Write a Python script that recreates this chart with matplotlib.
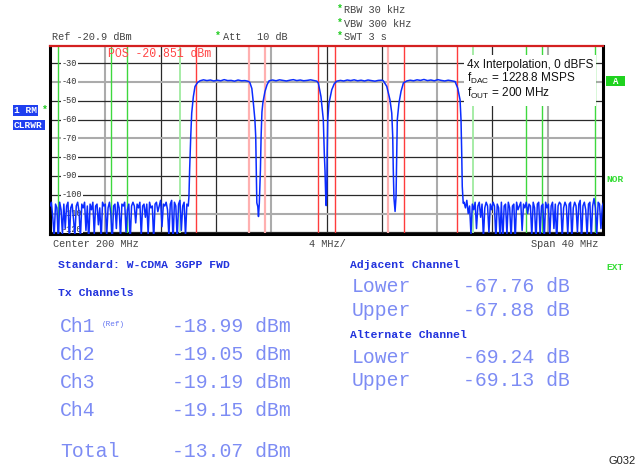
import numpy as np
import matplotlib
matplotlib.use("Agg")
import matplotlib.pyplot as plt
from matplotlib.patches import Rectangle
from matplotlib.transforms import blended_transform_factory

plt.rcParams['mathtext.fontset'] = 'custom'
plt.rcParams['mathtext.rm'] = 'Liberation Sans'
plt.rcParams['mathtext.it'] = 'Liberation Sans:italic'

W, H = 641, 470
MONO = 'Liberation Mono'
SANS = 'Liberation Sans'

# ---- instrument settings ----
ref_level = -20.9
att_db = 10
rbw = "30 kHz"
vbw = "300 kHz"
swt = "3 s"
center_mhz = 200
span_mhz = 40
div_mhz = 4
marker_label = "POS -20.851 dBm"
standard = "W-CDMA 3GPP FWD"

# ---- channel configuration (MHz) ----
tx_centers = [192.5, 197.5, 202.5, 207.5]
channel_bw = 3.84
adj_centers = [187.5, 212.5]
alt_centers = [182.5, 217.5]

# ---- measurement results ----
channel_names = ["Ch1", "Ch2", "Ch3", "Ch4"]
channel_power = [-18.99, -19.05, -19.19, -19.15]
total_power = -13.07
adjacent_acpr = [-67.76, -67.88]
alternate_acpr = [-69.24, -69.13]

# ---- level axis labels ----
level_ticks = [-30, -40, -50, -60, -70, -80, -90, -100, -110, -120]

# ---- trace: noise floor below the carriers (0.1 MHz sweep grid from 180 MHz) ----
noise_low_start = 180.0
noise_low = [
    -106, -104, -112, -122, -105, -107, -125, -104, -108, -121,
    -105, -118, -106, -104, -124, -107, -105, -113, -122, -106,
    -104, -109, -123, -105, -107, -104, -119, -106, -125, -105,
    -108, -104, -121, -106, -105, -116, -107, -124, -104, -106,
    -105, -122, -107, -104, -110, -125, -106, -105, -118, -104,
    -107, -123, -105, -106, -104, -120, -108, -105, -125, -106,
    -104, -106, -115, -105, -107, -104, -122, -106, -105, -112,
    -105, -121, -104, -107, -106, -124, -105, -104, -109, -106,
    -103, -117, -105, -106, -104, -108, -122, -105, -103, -125,
    -104, -106, -124, -105, -103, -119, -106, -104, -122, -105,
]

# ---- trace: four-carrier region ----
carrier_freq = [
    190.00, 190.05, 190.10, 190.18, 190.25, 190.37, 190.49, 190.68, 190.85,
    191.10, 191.35, 191.60, 191.85, 192.10, 192.35, 192.60, 192.85, 193.10,
    193.35, 193.60, 193.85, 194.10, 194.30,
    194.45, 194.60, 194.71, 194.82, 194.88, 194.92, 194.96, 195.03, 195.08,
    195.14, 195.22, 195.27, 195.33, 195.40, 195.55, 195.70, 195.85,
    196.10, 196.35, 196.60, 196.85, 197.10, 197.35, 197.60, 197.85, 198.10,
    198.35, 198.60, 198.85, 199.10, 199.30,
    199.41, 199.60, 199.77, 199.84, 199.89, 199.94, 199.98, 200.02, 200.05,
    200.09, 200.18, 200.38, 200.56, 200.74,
    201.00, 201.25, 201.50, 201.75, 202.00, 202.25, 202.50, 202.75, 203.00,
    203.25, 203.50, 203.75, 204.00,
    204.11, 204.36, 204.59, 204.72, 204.79, 204.83, 204.88, 204.96, 205.03,
    205.08, 205.12, 205.24, 205.39, 205.56, 205.80,
    206.05, 206.30, 206.55, 206.80, 207.05, 207.30, 207.55, 207.80, 208.05,
    208.30, 208.55, 208.80, 209.05, 209.30,
    209.49, 209.66, 209.73, 209.78, 209.82, 209.89,
]
carrier_level = [
    -106.0, -101.0, -86.8, -69.0, -56.6, -47.8, -42.4, -40.3, -39.4,
    -38.9, -39.3, -39.0, -39.5, -39.1, -39.4, -38.8, -39.3, -39.2,
    -39.6, -39.0, -39.4, -39.3, -39.6,
    -40.2, -43.5, -51.3, -60.0, -69.0, -86.8, -104.3, -106.3, -111.6,
    -104.5, -86.8, -69.0, -56.0, -51.0, -45.1, -41.5, -39.4,
    -39.0, -39.4, -38.9, -39.2, -39.5, -39.1, -38.8, -39.3, -39.0,
    -39.4, -39.2, -38.9, -39.3, -39.6,
    -40.6, -47.8, -60.2, -77.9, -86.8, -100.0, -105.8, -98.0, -77.9,
    -60.2, -51.3, -44.2, -41.0, -39.6,
    -39.2, -39.5, -39.0, -39.3, -38.9, -39.4, -39.1, -39.5, -39.0,
    -39.3, -39.6, -39.2, -39.1,
    -39.4, -42.4, -49.5, -56.6, -69.0, -86.8, -101.8, -108.9, -101.0,
    -77.9, -60.2, -51.3, -45.1, -40.6, -39.5,
    -39.1, -39.4, -38.9, -39.2, -38.7, -39.3, -39.0, -39.4, -38.8,
    -39.2, -39.5, -39.1, -39.4, -39.8,
    -43.3, -49.5, -60.2, -77.9, -95.6, -104.5,
]

# ---- trace: noise floor above the carriers (0.1 MHz sweep grid) ----
noise_high_start = 209.95
noise_high = [
    -104, -107, -103, -110, -106, -121, -105, -108, -104, -118,
    -106, -104, -112, -105, -123, -107, -104, -106, -120, -105,
    -108, -104, -106, -124, -105, -107, -122, -104, -125, -106,
    -105, -121, -104, -107, -123, -106, -105, -124, -104, -108,
    -106, -104, -119, -105, -107, -104, -110, -105, -106, -122,
    -104, -107, -125, -105, -104, -121, -106, -105, -124, -104,
    -107, -105, -122, -106, -104, -118, -105, -125, -106, -104,
    -105, -123, -107, -104, -106, -121, -105, -104, -124, -107,
    -104, -106, -120, -105, -103, -125, -106, -104, -108, -122,
    -105, -104, -123, -106, -102, -107, -121, -104, -105, -118,
    -106, -104,
]

sweep_step = 0.1
freq = np.concatenate([
    noise_low_start + sweep_step * np.arange(len(noise_low)),
    np.array(carrier_freq),
    noise_high_start + sweep_step * np.arange(len(noise_high)),
])
level = np.concatenate([noise_low, carrier_level, noise_high]).astype(float)

# ---------------------------------------------------------------------------
fig = plt.figure(figsize=(W / 100, H / 100), dpi=100)
fig.patch.set_facecolor('white')

def fx(x):
    return x / W

def fy(y):
    return 1 - y / H

ax = fig.add_axes([fx(50), fy(234), 553 / W, 188 / H])
f_lo = center_mhz - span_mhz / 2
f_hi = center_mhz + span_mhz / 2
ax.set_xlim(f_lo, f_hi)
ax.set_ylim(ref_level - 100, ref_level)
ax.set_xticks([])
ax.set_yticks([])
for side in ('left', 'bottom', 'right'):
    ax.spines[side].set_color('black')
    ax.spines[side].set_linewidth(2.2)
ax.spines['top'].set_color('#d42020')
ax.spines['top'].set_linewidth(1.6)

# graticule
grid_freqs = f_lo + div_mhz * np.arange(1, 10)
light_v = {1, 4, 7, 9}
for i, gf in enumerate(grid_freqs, start=1):
    if i in light_v:
        ax.axvline(gf, color='#ababab', lw=1.5, zorder=1)
    else:
        ax.axvline(gf, color='#2a2a2a', lw=0.9, zorder=1)
light_h = {-40, -70, -110}
for lv in level_ticks:
    if lv in light_h:
        ax.axhline(lv, color='#ababab', lw=1.5, zorder=1)
    else:
        ax.axhline(lv, color='#2a2a2a', lw=0.9, zorder=1)

# channel limit lines
light_red = {(0, 1), (1, 0), (2, 1)}
for ci, c in enumerate(tx_centers):
    for ei, e in enumerate((c - channel_bw / 2, c + channel_bw / 2)):
        if (ci, ei) in light_red:
            ax.axvline(e, color='#ffb0b0', lw=1.6, zorder=1.5)
        else:
            ax.axvline(e, color='#ff3c3c', lw=1.0, zorder=1.5)
light_green = {(187.5, 1), (212.5, 0)}
for c in adj_centers + alt_centers:
    for ei, e in enumerate((c - channel_bw / 2, c + channel_bw / 2)):
        if (c, ei) in light_green:
            ax.axvline(e, color='#a6eca6', lw=1.4, zorder=1.5)
        else:
            ax.axvline(e, color='#3ed83e', lw=1.0, zorder=1.5)

# level labels inside the graticule
blend = blended_transform_factory(ax.transAxes, ax.transData)
for lv in level_ticks:
    ypos = lv if lv > -120 else lv + 1.5
    ax.text(12 / 553, ypos, f"{lv}", transform=blend, ha='left', va='center',
            fontsize=6.2, family=MONO, color='#333333', zorder=2.5,
            bbox=dict(facecolor='white', edgecolor='none', pad=0.4))

# spectrum trace
ax.plot(freq, level, color='#0b2cff', lw=1.1, zorder=3, clip_on=True)

# marker readout
ax.text((108 - 50) / 553, (234 - 54.5) / 188, marker_label, transform=ax.transAxes,
        ha='left', va='center', fontsize=8.3, family=MONO, color='#ff4646', zorder=4)

# annotation box
ax.add_patch(Rectangle(((464 - 50) / 553, (234 - 106) / 188), 132 / 553, 51 / 188,
                       transform=ax.transAxes, facecolor='white', edgecolor='none', zorder=2.6))
note_lines = ["4x Interpolation, 0 dBFS",
              r"f$_{\mathrm{DAC}}$ = 1228.8 MSPS",
              r"f$_{\mathrm{OUT}}$ = 200 MHz"]
for s, yb in zip(note_lines, (67.7, 81.5, 96.5)):
    ax.text((467 - 50) / 553, (234 - yb) / 188, s, transform=ax.transAxes,
            ha='left', va='baseline', fontsize=8.5, family=SANS, color='#111111', zorder=4)

# ---- header ----
hdr = dict(fontsize=7.4, family=MONO, color='#444444', va='center', ha='left')
star = dict(fontsize=7.0, family=MONO, color='#22cc22', va='center', ha='left', fontweight='bold')
fig.text(fx(52), fy(37), f"Ref {ref_level} dBm", **hdr)
fig.text(fx(215), fy(36), "*", **star)
fig.text(fx(223), fy(37), "Att", **hdr)
fig.text(fx(257), fy(37), f"{att_db} dB", **hdr)
for yy, s in ((10.3, f"RBW {rbw}"), (24.0, f"VBW {vbw}"), (37.3, f"SWT {swt}")):
    fig.text(fx(336.5), fy(yy - 1), "*", **star)
    fig.text(fx(344), fy(yy), s, **hdr)

# ---- frequency axis captions ----
fig.text(fx(53), fy(244), f"Center {center_mhz} MHz", **hdr)
fig.text(fx(309), fy(244), f"{div_mhz} MHz/", **hdr)
fig.text(fx(598), fy(244), f"Span {span_mhz} MHz", **{**hdr, 'ha': 'right'})

# ---- side status fields ----
blue_box = '#1f3ff0'
fig.patches.append(Rectangle((fx(12.7), fy(116)), 25.6 / W, 11 / H, transform=fig.transFigure,
                             facecolor=blue_box, edgecolor='none', zorder=1))
fig.text(fx(14.5), fy(110.5), "1 RM", fontsize=6.8, family=MONO, fontweight='bold',
         color='white', va='center', ha='left', zorder=2)
fig.text(fx(42), fy(109.5), "*", **star)
fig.patches.append(Rectangle((fx(12.7), fy(130)), 32.3 / W, 10 / H, transform=fig.transFigure,
                             facecolor=blue_box, edgecolor='none', zorder=1))
fig.text(fx(13.5), fy(125), "CLRWR", fontsize=6.8, family=MONO, fontweight='bold',
         color='white', va='center', ha='left', zorder=2)

fig.patches.append(Rectangle((fx(606), fy(86)), 19 / W, 10 / H, transform=fig.transFigure,
                             facecolor='#1fd21f', edgecolor='none', zorder=1))
fig.text(fx(615.5), fy(81), "A", fontsize=6.5, family=MONO, fontweight='bold',
         color='white', va='center', ha='center', zorder=2)
grn = dict(fontsize=6.8, family=MONO, fontweight='bold', color='#33dd33', va='center', ha='left')
fig.text(fx(606.5), fy(180), "NOR", **grn)
fig.text(fx(606.5), fy(267.5), "EXT", **grn)

# ---- result table ----
head = dict(fontsize=8.2, family=MONO, fontweight='bold', color='#2233dd', va='center', ha='left')
big = dict(fontsize=14.2, family=MONO, color='#7d8cf4', va='center', ha='left')

fig.text(fx(58), fy(265), f"Standard: {standard}", **head)
fig.text(fx(58), fy(293.5), "Tx Channels", **head)
row_y = [326, 354.3, 382.3, 411]
for name, p, yy in zip(channel_names, channel_power, row_y):
    fig.text(fx(60), fy(yy), name, **big)
    fig.text(fx(171.5), fy(yy), f"{p:.2f} dBm", **big)
fig.text(fx(101.5), fy(324.5), "(Ref)", fontsize=5.6, family=MONO, color='#6677f2',
         va='center', ha='left')
fig.text(fx(60), fy(451.7), "Total", **big)
fig.text(fx(171.5), fy(451.7), f"{total_power:.2f} dBm", **big)

fig.text(fx(350.5), fy(265), "Adjacent Channel", **head)
fig.text(fx(351.5), fy(286), "Lower", **big)
fig.text(fx(463), fy(286), f"{adjacent_acpr[0]:.2f} dB", **big)
fig.text(fx(351.5), fy(310), "Upper", **big)
fig.text(fx(463), fy(310), f"{adjacent_acpr[1]:.2f} dB", **big)
fig.text(fx(350.5), fy(335), "Alternate Channel", **head)
fig.text(fx(351.5), fy(357.3), "Lower", **big)
fig.text(fx(463), fy(357.3), f"{alternate_acpr[0]:.2f} dB", **big)
fig.text(fx(351.5), fy(380), "Upper", **big)
fig.text(fx(463), fy(380), f"{alternate_acpr[1]:.2f} dB", **big)

fig.text(fx(636), fy(461), "G032", fontsize=8, family=SANS, color='#222222',
         va='center', ha='right')

fig.savefig("out.png", dpi=100, facecolor='white')
